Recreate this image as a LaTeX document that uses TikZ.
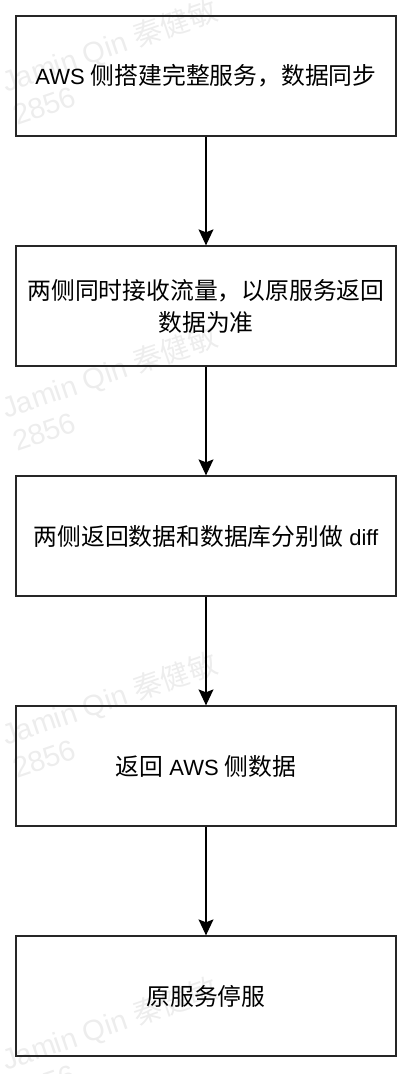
\documentclass[tikz,border=0pt]{standalone}
\usepackage{fontspec}
\setmainfont{Noto Sans CJK SC}
\newfontfamily\lat{Liberation Sans}
\usetikzlibrary{arrows.meta}
\newcommand\latw[1]{{\fontsize{22}{32}\lat #1}}
\begin{document}
\begin{tikzpicture}[x=1pt,y=-1pt,
  stepbox/.style={draw=black!85, line width=1.3pt, minimum width=380pt, minimum height=120pt,
    inner sep=0pt, align=center, font=\fontsize{23.8}{32}\selectfont},
  flow/.style={-{Stealth[length=16pt,width=15pt,inset=3pt]}, line width=1.3pt, black},
  wm/.style={text=black!7, rotate=19, anchor=base west, inner sep=0pt, font=\fontsize{29}{29}\selectfont}]
\useasboundingbox (0,0) rectangle (414,1074);
% watermarks
\foreach \i/\yy in {1/93,2/419,3/746,4/1071}{
  \node[wm] (wa\i) at (6,\yy) {{\lat Jamin Qin }秦健敏};
  \node[wm] (wb\i) at (17,\yy+33) {\lat 2856};
}
% boxes
\node[stepbox] (b1) at (206,76) {\latw{AWS }侧搭建完整服务，数据同步};
\node[stepbox] (b2) at (206,306) {两侧同时接收流量，以原服务返回\\数据为准};
\node[stepbox] (b3) at (206,536) {两侧返回数据和数据库分别做\latw{ diff}};
\node[stepbox] (b4) at (206,766) {返回\latw{ AWS }侧数据};
\node[stepbox] (b5) at (206,996) {原服务停服};
% connectors
\draw[flow] (b1.south) -- (b2.north);
\draw[flow] (b2.south) -- (b3.north);
\draw[flow] (b3.south) -- (b4.north);
\draw[flow] (b4.south) -- (b5.north);
\end{tikzpicture}
\end{document}
